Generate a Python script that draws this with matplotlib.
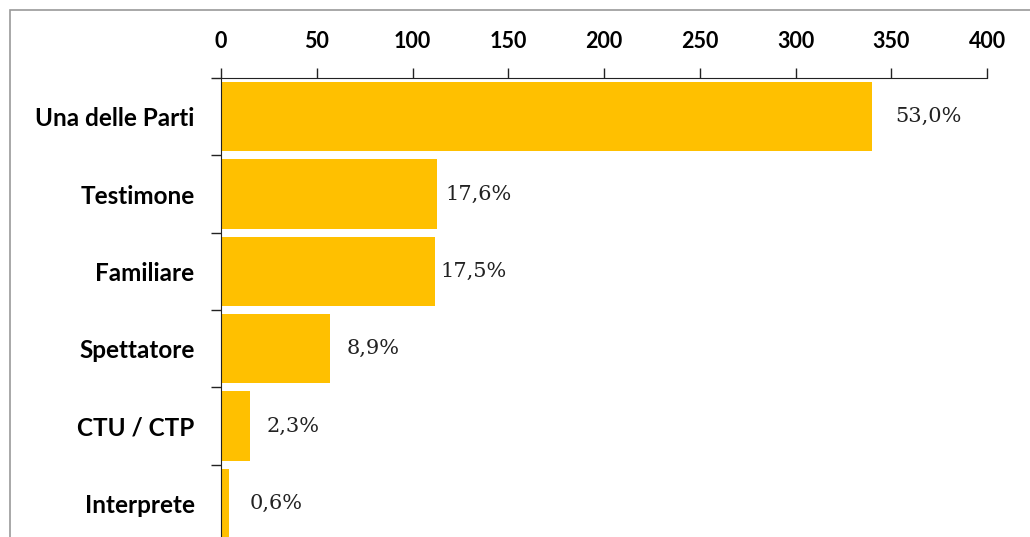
import matplotlib.pyplot as plt
from matplotlib.patches import Rectangle

# data (counts, top to bottom)
categories = ["Una delle Parti", "Testimone", "Familiare",
              "Spettatore", "CTU / CTP", "Interprete"]
counts = [340, 113, 112, 57, 15, 4]
percent_labels = ["53,0%", "17,6%", "17,5%", "8,9%", "2,3%", "0,6%"]
x_ticks = [0, 50, 100, 150, 200, 250, 300, 350, 400]

# label gap after each bar end (points), as Excel placed them
label_pad = [17, 6, 3.5, 11.5, 12, 15]

BAR_COLOR = "#FFC000"
W, H = 1030, 537

fig = plt.figure(figsize=(W / 100, H / 100), dpi=100)
# axes runs slightly past the bottom edge, as in the cropped original
ax = fig.add_axes([221 / W, (H - 542) / H, (987 - 221) / W, (542 - 78) / H])

# outer chart frame
fig.patches.append(Rectangle((10 / W, -0.1), 1.2, (H - 10) / H + 0.1,
                             transform=fig.transFigure, fill=False,
                             edgecolor="#9a9a9a", linewidth=1.2))

y = list(range(len(categories)))
ax.barh(y, counts, height=0.9, color=BAR_COLOR)
ax.set_ylim(len(categories) - 0.5, -0.5)
ax.set_xlim(0, 400)

for yi, c, lab, pad in zip(y, counts, percent_labels, label_pad):
    ax.annotate(lab, (c, yi), xytext=(pad, 0), textcoords="offset points",
                va="center", ha="left", fontsize=15,
                family="DejaVu Serif", color="#222222")

ax.xaxis.tick_top()
ax.set_xticks(x_ticks)
ax.set_xticklabels([str(t) for t in x_ticks], fontsize=15.5,
                   fontweight="bold", family="Lato")
ax.tick_params(axis="x", direction="out", length=7, width=1, pad=12,
               color="#222222")

ax.set_yticks(y)
ax.set_yticklabels(categories, fontsize=17.5, fontweight="bold", family="Lato")
ax.set_yticks([i - 0.5 for i in range(len(categories) + 1)], minor=True)
ax.tick_params(axis="y", which="major", length=0, pad=19)
ax.tick_params(axis="y", which="minor", direction="out", length=7, width=1,
               color="#222222")

for side in ["right", "bottom"]:
    ax.spines[side].set_visible(False)
ax.spines["top"].set_color("#222222")
ax.spines["left"].set_color("#222222")

fig.savefig("out.png", dpi=100)
